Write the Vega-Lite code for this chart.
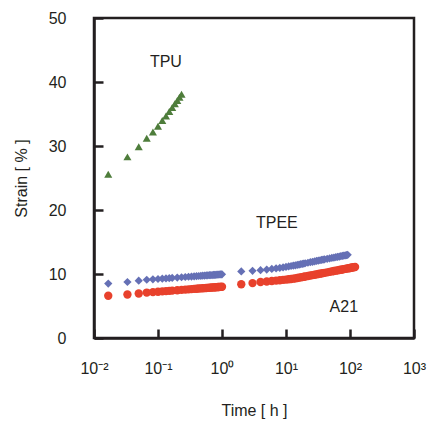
{
  "$schema": "https://vega.github.io/schema/vega-lite/v6.json",
  "width": 320,
  "height": 320,
  "autosize": "none",
  "padding": {"left": 94, "top": 18, "right": 14, "bottom": 87},
  "background": "white",
  "config": {
    "font": "Liberation Sans",
    "view": {"stroke": "#231f20", "strokeWidth": 2.5},
    "axis": {
      "grid": false,
      "domainColor": "#231f20",
      "domainWidth": 2.5,
      "tickColor": "#231f20",
      "tickWidth": 2.5,
      "tickSize": -9,
      "labelColor": "#231f20",
      "labelFontSize": 16,
      "titleColor": "#231f20",
      "titleFontSize": 16,
      "titleFontWeight": "normal"
    }
  },
  "layer": [
    {
      "data": {
        "values": [
          {"s": "TPU", "t": 0.0167, "v": 25.6},
          {"s": "TPU", "t": 0.0333, "v": 28.3},
          {"s": "TPU", "t": 0.05, "v": 29.9},
          {"s": "TPU", "t": 0.0667, "v": 31.2},
          {"s": "TPU", "t": 0.0833, "v": 32.2},
          {"s": "TPU", "t": 0.1, "v": 33.1},
          {"s": "TPU", "t": 0.1167, "v": 34.0},
          {"s": "TPU", "t": 0.1333, "v": 34.7},
          {"s": "TPU", "t": 0.15, "v": 35.4},
          {"s": "TPU", "t": 0.1667, "v": 36.0},
          {"s": "TPU", "t": 0.1833, "v": 36.6},
          {"s": "TPU", "t": 0.2, "v": 37.1},
          {"s": "TPU", "t": 0.2167, "v": 37.6},
          {"s": "TPU", "t": 0.2333, "v": 38.1},

          {"s": "TPEE", "t": 0.0167, "v": 8.5},
          {"s": "TPEE", "t": 0.0333, "v": 8.75},
          {"s": "TPEE", "t": 0.05, "v": 8.95},
          {"s": "TPEE", "t": 0.0667, "v": 9.1},
          {"s": "TPEE", "t": 0.0833, "v": 9.17},
          {"s": "TPEE", "t": 0.1, "v": 9.22},
          {"s": "TPEE", "t": 0.1167, "v": 9.27},
          {"s": "TPEE", "t": 0.1333, "v": 9.31},
          {"s": "TPEE", "t": 0.15, "v": 9.35},
          {"s": "TPEE", "t": 0.1667, "v": 9.38},
          {"s": "TPEE", "t": 0.2, "v": 9.44},
          {"s": "TPEE", "t": 0.2333, "v": 9.49},
          {"s": "TPEE", "t": 0.2667, "v": 9.53},
          {"s": "TPEE", "t": 0.3, "v": 9.57},
          {"s": "TPEE", "t": 0.3333, "v": 9.6},
          {"s": "TPEE", "t": 0.3667, "v": 9.63},
          {"s": "TPEE", "t": 0.4, "v": 9.66},
          {"s": "TPEE", "t": 0.4333, "v": 9.69},
          {"s": "TPEE", "t": 0.4667, "v": 9.71},
          {"s": "TPEE", "t": 0.5, "v": 9.73},
          {"s": "TPEE", "t": 0.5333, "v": 9.75},
          {"s": "TPEE", "t": 0.5667, "v": 9.77},
          {"s": "TPEE", "t": 0.6, "v": 9.79},
          {"s": "TPEE", "t": 0.6333, "v": 9.81},
          {"s": "TPEE", "t": 0.6667, "v": 9.82},
          {"s": "TPEE", "t": 0.7, "v": 9.84},
          {"s": "TPEE", "t": 0.7333, "v": 9.85},
          {"s": "TPEE", "t": 0.7667, "v": 9.87},
          {"s": "TPEE", "t": 0.8, "v": 9.88},
          {"s": "TPEE", "t": 0.8333, "v": 9.89},
          {"s": "TPEE", "t": 0.8667, "v": 9.91},
          {"s": "TPEE", "t": 0.9, "v": 9.92},
          {"s": "TPEE", "t": 0.9333, "v": 9.93},
          {"s": "TPEE", "t": 0.9667, "v": 9.94},
          {"s": "TPEE", "t": 1.0, "v": 9.95},
          {"s": "TPEE", "t": 2, "v": 10.4},
          {"s": "TPEE", "t": 3, "v": 10.5},
          {"s": "TPEE", "t": 4, "v": 10.6},
          {"s": "TPEE", "t": 5, "v": 10.7},
          {"s": "TPEE", "t": 6, "v": 10.8},
          {"s": "TPEE", "t": 7, "v": 10.88},
          {"s": "TPEE", "t": 8, "v": 10.95},
          {"s": "TPEE", "t": 9, "v": 11.03},
          {"s": "TPEE", "t": 10, "v": 11.11},
          {"s": "TPEE", "t": 11, "v": 11.18},
          {"s": "TPEE", "t": 12, "v": 11.25},
          {"s": "TPEE", "t": 13, "v": 11.31},
          {"s": "TPEE", "t": 14, "v": 11.36},
          {"s": "TPEE", "t": 15, "v": 11.42},
          {"s": "TPEE", "t": 16, "v": 11.48},
          {"s": "TPEE", "t": 17, "v": 11.53},
          {"s": "TPEE", "t": 18, "v": 11.58},
          {"s": "TPEE", "t": 19, "v": 11.63},
          {"s": "TPEE", "t": 20, "v": 11.68},
          {"s": "TPEE", "t": 22, "v": 11.76},
          {"s": "TPEE", "t": 24, "v": 11.84},
          {"s": "TPEE", "t": 26, "v": 11.91},
          {"s": "TPEE", "t": 28, "v": 11.98},
          {"s": "TPEE", "t": 30, "v": 12.04},
          {"s": "TPEE", "t": 32, "v": 12.1},
          {"s": "TPEE", "t": 34, "v": 12.15},
          {"s": "TPEE", "t": 36, "v": 12.2},
          {"s": "TPEE", "t": 38, "v": 12.25},
          {"s": "TPEE", "t": 40, "v": 12.29},
          {"s": "TPEE", "t": 44, "v": 12.37},
          {"s": "TPEE", "t": 48, "v": 12.44},
          {"s": "TPEE", "t": 52, "v": 12.51},
          {"s": "TPEE", "t": 56, "v": 12.57},
          {"s": "TPEE", "t": 60, "v": 12.63},
          {"s": "TPEE", "t": 64, "v": 12.68},
          {"s": "TPEE", "t": 68, "v": 12.73},
          {"s": "TPEE", "t": 72, "v": 12.78},
          {"s": "TPEE", "t": 76, "v": 12.83},
          {"s": "TPEE", "t": 80, "v": 12.87},
          {"s": "TPEE", "t": 84, "v": 12.91},
          {"s": "TPEE", "t": 88, "v": 12.95},
          {"s": "TPEE", "t": 92, "v": 13.0},

          {"s": "A21", "t": 0.0167, "v": 6.6},
          {"s": "A21", "t": 0.0333, "v": 6.8},
          {"s": "A21", "t": 0.05, "v": 6.95},
          {"s": "A21", "t": 0.0667, "v": 7.1},
          {"s": "A21", "t": 0.0833, "v": 7.17},
          {"s": "A21", "t": 0.1, "v": 7.23},
          {"s": "A21", "t": 0.1167, "v": 7.28},
          {"s": "A21", "t": 0.1333, "v": 7.33},
          {"s": "A21", "t": 0.15, "v": 7.37},
          {"s": "A21", "t": 0.1667, "v": 7.4},
          {"s": "A21", "t": 0.2, "v": 7.47},
          {"s": "A21", "t": 0.2333, "v": 7.52},
          {"s": "A21", "t": 0.2667, "v": 7.56},
          {"s": "A21", "t": 0.3, "v": 7.6},
          {"s": "A21", "t": 0.3333, "v": 7.64},
          {"s": "A21", "t": 0.3667, "v": 7.67},
          {"s": "A21", "t": 0.4, "v": 7.7},
          {"s": "A21", "t": 0.4333, "v": 7.73},
          {"s": "A21", "t": 0.4667, "v": 7.75},
          {"s": "A21", "t": 0.5, "v": 7.77},
          {"s": "A21", "t": 0.5333, "v": 7.8},
          {"s": "A21", "t": 0.5667, "v": 7.82},
          {"s": "A21", "t": 0.6, "v": 7.84},
          {"s": "A21", "t": 0.6333, "v": 7.86},
          {"s": "A21", "t": 0.6667, "v": 7.87},
          {"s": "A21", "t": 0.7, "v": 7.89},
          {"s": "A21", "t": 0.7333, "v": 7.9},
          {"s": "A21", "t": 0.7667, "v": 7.92},
          {"s": "A21", "t": 0.8, "v": 7.93},
          {"s": "A21", "t": 0.8333, "v": 7.94},
          {"s": "A21", "t": 0.8667, "v": 7.96},
          {"s": "A21", "t": 0.9, "v": 7.97},
          {"s": "A21", "t": 0.9333, "v": 7.98},
          {"s": "A21", "t": 0.9667, "v": 7.99},
          {"s": "A21", "t": 1.0, "v": 8.0},
          {"s": "A21", "t": 2, "v": 8.4},
          {"s": "A21", "t": 3, "v": 8.58},
          {"s": "A21", "t": 4, "v": 8.75},
          {"s": "A21", "t": 5, "v": 8.83},
          {"s": "A21", "t": 6, "v": 8.9},
          {"s": "A21", "t": 7, "v": 8.97},
          {"s": "A21", "t": 8, "v": 9.03},
          {"s": "A21", "t": 9, "v": 9.08},
          {"s": "A21", "t": 10, "v": 9.13},
          {"s": "A21", "t": 11, "v": 9.18},
          {"s": "A21", "t": 12, "v": 9.22},
          {"s": "A21", "t": 13, "v": 9.27},
          {"s": "A21", "t": 14, "v": 9.32},
          {"s": "A21", "t": 15, "v": 9.37},
          {"s": "A21", "t": 16, "v": 9.43},
          {"s": "A21", "t": 17, "v": 9.48},
          {"s": "A21", "t": 18, "v": 9.52},
          {"s": "A21", "t": 19, "v": 9.57},
          {"s": "A21", "t": 20, "v": 9.61},
          {"s": "A21", "t": 22, "v": 9.69},
          {"s": "A21", "t": 24, "v": 9.76},
          {"s": "A21", "t": 26, "v": 9.83},
          {"s": "A21", "t": 28, "v": 9.89},
          {"s": "A21", "t": 30, "v": 9.94},
          {"s": "A21", "t": 32, "v": 10.0},
          {"s": "A21", "t": 34, "v": 10.05},
          {"s": "A21", "t": 36, "v": 10.1},
          {"s": "A21", "t": 38, "v": 10.14},
          {"s": "A21", "t": 40, "v": 10.18},
          {"s": "A21", "t": 44, "v": 10.26},
          {"s": "A21", "t": 48, "v": 10.33},
          {"s": "A21", "t": 52, "v": 10.4},
          {"s": "A21", "t": 56, "v": 10.46},
          {"s": "A21", "t": 60, "v": 10.52},
          {"s": "A21", "t": 64, "v": 10.57},
          {"s": "A21", "t": 68, "v": 10.62},
          {"s": "A21", "t": 72, "v": 10.67},
          {"s": "A21", "t": 76, "v": 10.71},
          {"s": "A21", "t": 80, "v": 10.76},
          {"s": "A21", "t": 84, "v": 10.8},
          {"s": "A21", "t": 88, "v": 10.84},
          {"s": "A21", "t": 92, "v": 10.87},
          {"s": "A21", "t": 96, "v": 10.91},
          {"s": "A21", "t": 100, "v": 10.94},
          {"s": "A21", "t": 104, "v": 10.97},
          {"s": "A21", "t": 108, "v": 11.01},
          {"s": "A21", "t": 112, "v": 11.04},
          {"s": "A21", "t": 116, "v": 11.07},
          {"s": "A21", "t": 120, "v": 11.1}
        ]
      },
      "mark": {"type": "point", "filled": true, "opacity": 1},
      "encoding": {
        "x": {
          "field": "t",
          "type": "quantitative",
          "scale": {"type": "log", "domain": [0.01, 1000], "nice": false},
          "axis": {
            "title": "Time [ h ]",
            "values": [0.01, 0.1, 1, 10, 100, 1000],
            "labelExpr": "datum.value < 0.05 ? '10\u207b\u00b2' : datum.value < 0.5 ? '10\u207b\u00b9' : datum.value < 5 ? '10\u2070' : datum.value < 50 ? '10\u00b9' : datum.value < 500 ? '10\u00b2' : '10\u00b3'",
            "labelPadding": 31,
            "labelFlush": false,
            "titlePadding": 26
          }
        },
        "y": {
          "field": "v",
          "type": "quantitative",
          "scale": {"domain": [0, 50], "nice": false},
          "axis": {
            "title": "Strain [ % ]",
            "values": [0, 10, 20, 30, 40, 50],
            "labelPadding": 37,
            "labelFlush": false,
            "titlePadding": 19
          }
        },
        "color": {
          "field": "s",
          "type": "nominal",
          "scale": {"domain": ["TPU", "TPEE", "A21"], "range": ["#4e7d3b", "#6570b5", "#e8412c"]},
          "legend": null
        },
        "shape": {
          "field": "s",
          "type": "nominal",
          "scale": {"domain": ["TPU", "TPEE", "A21"], "range": ["triangle-up", "diamond", "circle"]},
          "legend": null
        },
        "size": {
          "field": "s",
          "type": "nominal",
          "scale": {"domain": ["TPU", "TPEE", "A21"], "range": [65, 70, 60]},
          "legend": null
        }
      }
    },
    {
      "data": {
        "values": [
          {"label": "TPU", "t": 0.133, "v": 43.1},
          {"label": "TPEE", "t": 7.2, "v": 18.0},
          {"label": "A21", "t": 80, "v": 4.8}
        ]
      },
      "mark": {"type": "text", "fontSize": 16, "color": "#231f20", "baseline": "middle", "align": "center"},
      "encoding": {
        "x": {"field": "t", "type": "quantitative"},
        "y": {"field": "v", "type": "quantitative"},
        "text": {"field": "label"}
      }
    }
  ]
}
